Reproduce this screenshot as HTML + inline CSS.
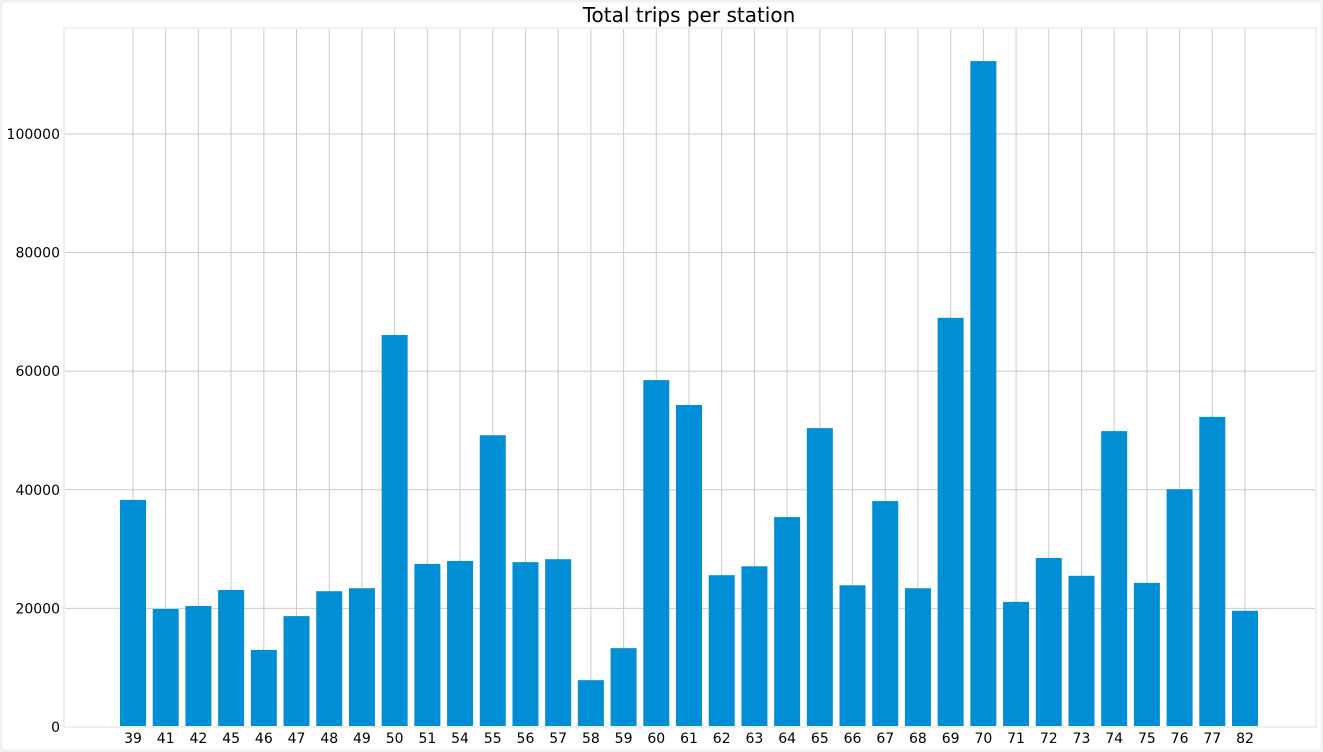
<!DOCTYPE html>
<html><head><meta charset="utf-8"><style>
html,body{margin:0;padding:0;background:#fff;}
svg{display:block;font-family:"DejaVu Sans","Liberation Sans",sans-serif;}
</style></head><body>
<svg id="chart" width="1323" height="752">
<rect x="1" y="1" width="1321" height="750" fill="#fff" stroke="#f0f0f0" stroke-width="3"/>
<text x="689" y="22" text-anchor="middle" font-size="20" fill="#000">Total trips per station</text>
<g id="grid"></g><g id="bars"></g><g id="xticks"></g><g id="yticks"></g>
<rect x="64" y="28" width="1252" height="699" fill="none" stroke="#f0f0f0" stroke-width="2"/>
</svg>
<script>
const categories=["39","41","42","45","46","47","48","49","50","51","54","55","56","57","58","59","60","61","62","63","64","65","66","67","68","69","70","71","72","73","74","75","76","77","82"];
const trips=[38300,19900,20400,23100,13000,18700,22900,23400,66100,27500,28000,49200,27800,28300,7900,13300,58500,54300,25600,27100,35400,50400,23900,38100,23400,69000,112300,21100,28500,25500,49900,24300,40100,52300,19600];
const yTicks=[0,20000,40000,60000,80000,100000];
const NS="http://www.w3.org/2000/svg";
const y0=727, pxPer=(727-134)/100000;
const yScale=v=>y0-v*pxPer;
const xStart=133, step=(1245-133)/34;
const xScale=i=>xStart+i*step;
const bw=26;
function mk(tag,attrs,parent){const e=document.createElementNS(NS,tag);for(const k in attrs)e.setAttribute(k,attrs[k]);parent.appendChild(e);return e;}
const grid=document.getElementById('grid'),bars=document.getElementById('bars'),xt=document.getElementById('xticks'),yt=document.getElementById('yticks');
yTicks.forEach(v=>{
 const y=yScale(v);
 const l=mk('line',{x1:64,x2:1316,y1:y,y2:y,stroke:'#cbcbcb','stroke-width':1},grid);
 
 
 const t=mk('text',{x:60,y:y+5,'text-anchor':'end','font-size':14,fill:'#000'},yt);
 t.textContent=String(v);
 
 
});
categories.forEach((c,i)=>{
 const x=xScale(i);
 const l=mk('line',{x1:x,x2:x,y1:28,y2:727,stroke:'#cbcbcb','stroke-width':1},grid);
 
 
 const y=yScale(trips[i]);
 const r=mk('rect',{x:x-bw/2,y:y,width:bw,height:y0-y,fill:'#008fd5'},bars);
 
 
 const t=mk('text',{x:x,y:743,'text-anchor':'middle','font-size':14,fill:'#000'},xt);
 t.textContent=c;
 
 
});
</script>
</body></html>
